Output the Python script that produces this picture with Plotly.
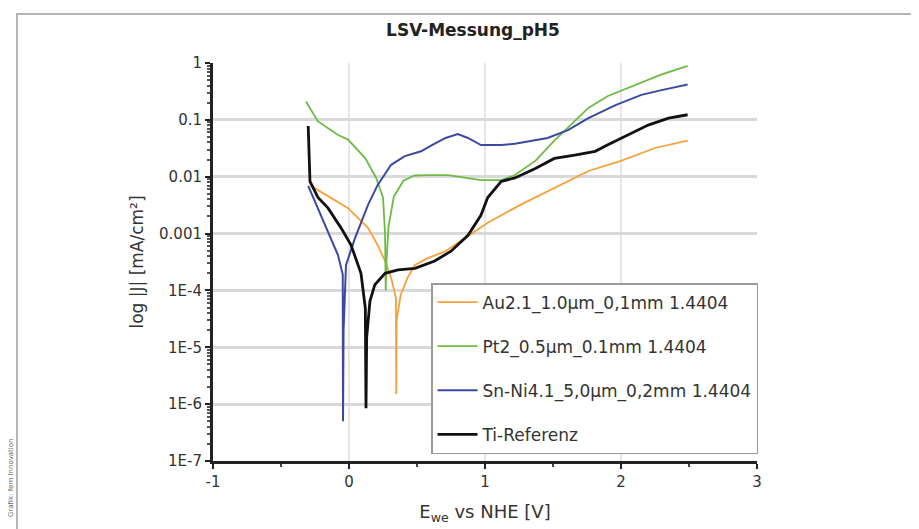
import plotly.graph_objects as go

# ---------------- data ----------------
x_au = [-0.28, -0.154, -0.007, 0.14, 0.21, 0.265, 0.31, 0.345, 0.347, 0.35, 0.38, 0.43, 0.485,
        0.58, 0.71, 0.85, 1.02, 1.26, 1.51, 1.76, 2.0, 2.25, 2.49]
j_au = [6.9e-3, 4.6e-3, 2.8e-3, 1.26e-3, 6.3e-4, 3.3e-4, 1.66e-4, 7.4e-5, 1.5e-6, 3e-5, 8.3e-5,
        1.66e-4, 2.8e-4, 3.7e-4, 4.9e-4, 8.3e-4, 1.55e-3, 3.2e-3, 6.3e-3, 1.26e-2, 1.9e-2,
        3.2e-2, 4.3e-2]

x_pt = [-0.316, -0.23, -0.08, -0.007, 0.12, 0.2, 0.25, 0.265, 0.27, 0.275, 0.29, 0.33, 0.4,
        0.48, 0.58, 0.728, 0.97, 1.12, 1.22, 1.37, 1.51, 1.63, 1.76, 1.90, 2.10, 2.29, 2.49]
j_pt = [0.21, 0.095, 5.4e-2, 4.5e-2, 2.1e-2, 9.5e-3, 4.3e-3, 1.0e-3, 1.0e-4, 3e-4, 1.3e-3,
        4.5e-3, 8.5e-3, 1.05e-2, 1.07e-2, 1.07e-2, 8.7e-3, 8.7e-3, 1.07e-2, 1.9e-2,
        4.3e-2, 8.1e-2, 0.162, 0.26, 0.41, 0.62, 0.89]

x_sn = [-0.30, -0.154, -0.081, -0.046, -0.046, -0.044, -0.04, -0.022, 0.044, 0.14, 0.21, 0.31,
        0.41, 0.53, 0.60, 0.71, 0.80, 0.875, 0.97, 1.12, 1.22, 1.46, 1.61, 1.76, 1.96, 2.15,
        2.29, 2.49]
j_sn = [6.9e-3, 1.1e-3, 4.2e-4, 1.9e-4, 1e-5, 5e-7, 2e-5, 2.8e-4, 8.3e-4, 3.2e-3, 7.1e-3,
        1.62e-2, 2.3e-2, 2.8e-2, 3.5e-2, 4.8e-2, 5.6e-2, 4.8e-2, 3.6e-2, 3.6e-2, 3.8e-2,
        4.8e-2, 6.6e-2, 0.107, 0.182, 0.275, 0.33, 0.42]

x_ti = [-0.30, -0.295, -0.29, -0.287, -0.228, -0.154, -0.059, 0.015, 0.088, 0.12, 0.125, 0.13,
        0.154, 0.19, 0.265, 0.36, 0.485, 0.63, 0.75, 0.875, 0.97, 1.02, 1.12, 1.22, 1.37,
        1.51, 1.66, 1.81, 1.90, 2.05, 2.20, 2.35, 2.49]
j_ti = [7.8e-2, 4e-2, 2.1e-2, 8.3e-3, 4.3e-3, 2.8e-3, 1.26e-3, 6.3e-4, 2.0e-4, 4.9e-5,
        8.5e-7, 1.5e-5, 6.5e-5, 1.26e-4, 2.0e-4, 2.3e-4, 2.45e-4, 3.3e-4, 4.9e-4, 9.3e-4,
        2.1e-3, 4.3e-3, 8.3e-3, 9.5e-3, 1.4e-2, 2.1e-2, 2.4e-2, 2.8e-2, 3.6e-2, 5.4e-2,
        8.1e-2, 0.107, 0.123]

names = ["Au2.1_1.0µm_0,1mm 1.4404", "Pt2_0.5µm_0.1mm 1.4404",
         "Sn-Ni4.1_5,0µm_0,2mm 1.4404", "Ti-Referenz"]
colors = ["#f5a13c", "#6dbb45", "#3b4aa0", "#111111"]
widths = [1.8, 1.8, 2.0, 2.8]

y_tickvals = [1, 0.1, 0.01, 0.001, 1e-4, 1e-5, 1e-6, 1e-7]
y_ticktext = ["1", "0.1", "0.01", "0.001", "1E-4", "1E-5", "1E-6", "1E-7"]
x_tickvals = [-1, 0, 1, 2, 3]
x_ticktext = ["-1", "0", "1", "2", "3"]

# ---------------- figure ----------------
W, H = 919, 529
L, R, T, B = 205, 170, 55, 76
fig = go.Figure()
for i, (xs, ys) in enumerate([(x_au, j_au), (x_pt, j_pt), (x_sn, j_sn), (x_ti, j_ti)]):
    fig.add_trace(go.Scatter(x=xs, y=ys, mode="lines", name=names[i],
                             legendgroup=f"g{i}",
                             line=dict(color=colors[i], width=widths[i])))

pw, ph = W - L - R, H - T - B
def px_to_paper_x(px):
    return (px - L) / pw
def px_to_paper_y(py):
    return (H - B - py) / ph

font = "DejaVu Sans, Verdana, sans-serif"
fig.update_layout(
    width=W, height=H,
    margin=dict(l=L, r=R, t=T, b=B, autoexpand=False),
    paper_bgcolor="white", plot_bgcolor="white",
    font=dict(family=font, color="#333333", size=13),
    title=dict(text="<b>LSV-Messung_pH5</b>", x=465 / W, xref="container", xanchor="center",
               y=1 - 22 / H, yref="container", yanchor="middle",
               font=dict(size=17, color="#222222", family=font)),
    showlegend=True,
    legend=dict(x=px_to_paper_x(423), y=px_to_paper_y(275), xanchor="left", yanchor="top",
                bgcolor="white", bordercolor="#9a9a9a", borderwidth=1.5,
                font=dict(size=17, color="#333333", family=font),
                tracegroupgap=19, itemwidth=40),
    xaxis=dict(range=[-1, 3], tickvals=x_tickvals, ticktext=x_ticktext,
               showline=True, linecolor="#222222", linewidth=3,
               ticks="outside", ticklen=5, tickwidth=1.5, tickcolor="#222222",
               minor=dict(ticks="outside", ticklen=3, dtick=0.5, tickcolor="#444444", showgrid=False),
               showgrid=True, gridcolor="#e6e6e6", gridwidth=2, zeroline=False,
               tickfont=dict(size=15, color="#333333"),
               title=dict(text="E<sub>we</sub> vs NHE [V]", standoff=16,
                          font=dict(size=18, color="#333333"))),
    yaxis=dict(type="log", range=[-7, 0], tickvals=y_tickvals, ticktext=y_ticktext,
               showline=True, linecolor="#222222", linewidth=3,
               ticks="outside", ticklen=5, tickwidth=1.5, tickcolor="#222222",
               minor=dict(ticks="outside", ticklen=3, dtick="D1", tickcolor="#555555", showgrid=False),
               showgrid=True, gridcolor="#d9d9d9", gridwidth=2.5, zeroline=False,
               tickfont=dict(size=15, color="#333333"),
               title=dict(text="log |J| [mA/cm²]", standoff=12,
                          font=dict(size=17, color="#333333"))),
)

# outer grey frame
fig.add_shape(type="rect", xref="paper", yref="paper",
              x0=px_to_paper_x(9), x1=px_to_paper_x(935),
              y0=px_to_paper_y(526), y1=px_to_paper_y(6),
              line=dict(color="#b4b4b4", width=2), fillcolor="rgba(0,0,0,0)", layer="below")

# side credit text
fig.add_annotation(text="Grafik: fem Innovation", xref="paper", yref="paper",
                   x=px_to_paper_x(3), y=px_to_paper_y(470), textangle=-90,
                   showarrow=False, font=dict(size=7, color="#666666"),
                   xanchor="center", yanchor="middle")

fig.write_html("out.html")
